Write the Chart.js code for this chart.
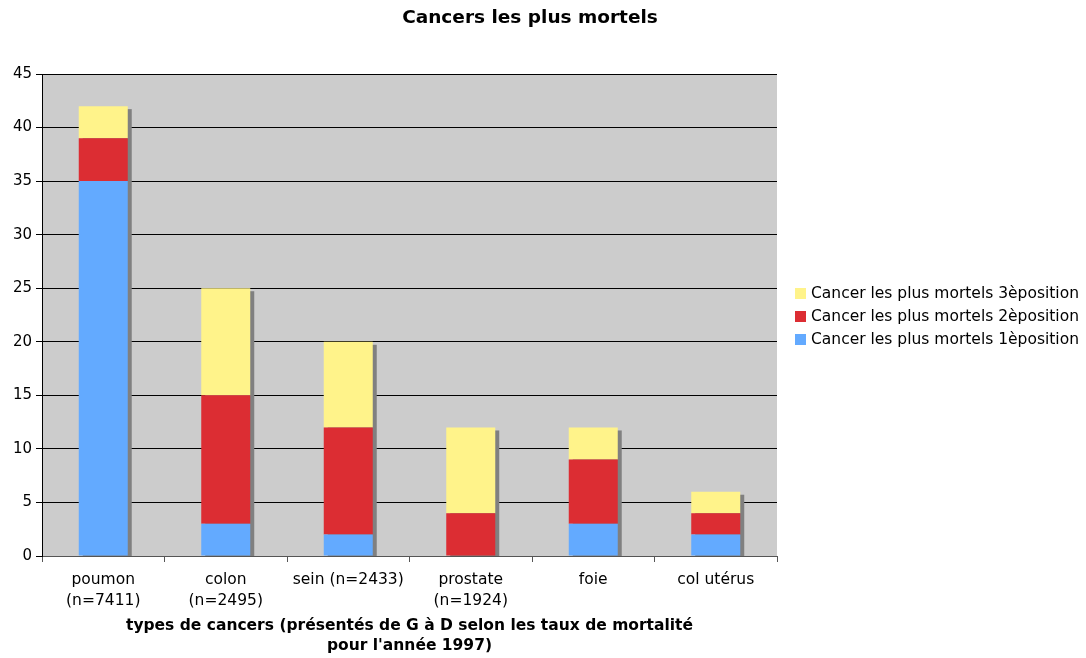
<!DOCTYPE html>
<html>
<head>
<meta charset="utf-8">
<script src="https://cdn.jsdelivr.net/npm/chart.js@4/dist/chart.umd.min.js"></script>
<style>
html,body{margin:0;padding:0;background:#fff;}
#wrap{width:1086px;height:658px;}
</style>
</head>
<body>
<div id="wrap"><canvas id="c" width="1086" height="658"></canvas></div>
<script>
const categories = [["poumon","(n=7411)"],["colon","(n=2495)"],"sein (n=2433)",["prostate","(n=1924)"],"foie","col utérus"];
const seriesNames = ["Cancer les plus mortels 1èposition","Cancer les plus mortels 2èposition","Cancer les plus mortels 3èposition"];
const position1 = [35, 3, 2, 0, 3, 2];
const position2 = [4, 12, 10, 4, 6, 2];
const position3 = [3, 10, 8, 8, 3, 2];
const yTicks = [0,5,10,15,20,25,30,35,40,45];
const chartTitle = "Cancers les plus mortels";
const xTitle = ["types de cancers (présentés de G à D selon les taux de mortalité","pour l'année 1997)"];

const FONT = "'DejaVu Sans', Verdana, sans-serif";

const plotBg = {
  id: 'plotBg',
  beforeDraw(chart) {
    const {ctx, chartArea: a} = chart;
    ctx.save();
    ctx.fillStyle = '#cccccc';
    ctx.fillRect(a.left, a.top, a.right - a.left, a.bottom - a.top);
    ctx.restore();
  }
};

const titlePlugin = {
  id: 'titlePlugin',
  afterDraw(chart) {
    const ctx = chart.ctx;
    ctx.save();
    ctx.fillStyle = '#000';
    ctx.font = "bold 18.5px " + FONT;
    ctx.textAlign = 'center';
    ctx.textBaseline = 'middle';
    ctx.fillText(chartTitle, 530, 18);
    ctx.restore();
  }
};

const sideLegend = {
  id: 'sideLegend',
  afterDraw(chart) {
    const {ctx, chartArea: a} = chart;
    const ds = chart.data.datasets;
    const cy = (a.top + a.bottom) / 2 + 2;
    const rowH = 23;
    const x0 = a.right + 18;
    ctx.save();
    ctx.font = "15.5px " + FONT;
    ctx.textBaseline = 'middle';
    ctx.textAlign = 'left';
    const n = ds.length;
    for (let k = 0; k < n; k++) {
      const d = ds[n - 1 - k];
      const y = cy + (k - (n - 1) / 2) * rowH;
      ctx.fillStyle = d.backgroundColor;
      ctx.fillRect(x0, Math.round(y - 6), 11, 11);
      ctx.fillStyle = '#000';
      ctx.fillText(d.label, x0 + 16, y);
    }
    ctx.restore();
  }
};

const barShadow = {
  id: 'barShadow',
  beforeDatasetsDraw(chart) {
    const {ctx, chartArea: a} = chart;
    const y = chart.scales.y;
    const base = y.getPixelForValue(0);
    const n = chart.data.labels.length;
    ctx.save();
    ctx.beginPath();
    ctx.rect(a.left, a.top, a.right - a.left, a.bottom - a.top);
    ctx.clip();
    ctx.fillStyle = '#808080';
    for (let i = 0; i < n; i++) {
      let top = base, x = null, w = 0;
      chart.data.datasets.forEach((ds, d) => {
        const el = chart.getDatasetMeta(d).data[i];
        if (!el) return;
        x = el.x; w = el.width;
        if (ds.data[i] > 0) top = Math.min(top, el.y);
      });
      if (x === null || top >= base) continue;
      ctx.fillRect(x - w / 2 + 4, top + 3, w, base - top - 3);
    }
    ctx.restore();
  }
};

new Chart(document.getElementById('c'), {
  type: 'bar',
  data: {
    labels: categories,
    datasets: [
      {label: seriesNames[0], data: position1, backgroundColor: '#63aaff'},
      {label: seriesNames[1], data: position2, backgroundColor: '#dc2d33'},
      {label: seriesNames[2], data: position3, backgroundColor: '#fff38a'}
    ]
  },
  options: {
    responsive: false,
    animation: false,
    layout: {padding: {left: 0, right: 309, top: 74, bottom: 0}},
    datasets: {bar: {categoryPercentage: 1.0, barPercentage: 0.4, borderWidth: 0}},
    plugins: {
      title: {display: false},
      legend: {display: false},
      tooltip: {enabled: false}
    },
    scales: {
      x: {
        stacked: true,
        afterFit(scale) { scale.height = 102; },
        grid: {display: true, drawOnChartArea: false, drawTicks: true, tickLength: 6, color: '#555', offset: true},
        border: {display: true, color: '#555'},
        ticks: {color: '#000', font: {family: FONT, size: 15.5, lineHeight: 1.35}, maxRotation: 0, autoSkip: false, padding: 8},
        title: {display: true, text: xTitle, color: '#000', font: {family: FONT, size: 15.5, weight: 'bold', lineHeight: 1.3}, padding: {top: 0, bottom: 2}}
      },
      y: {
        stacked: true, min: 0, max: 45,
        afterFit(scale) { scale.width = 42; },
        afterBuildTicks(scale) { scale.ticks = yTicks.map(v => ({value: v})); },
        grid: {color: '#000', lineWidth: 1, tickLength: 6, drawTicks: true},
        border: {display: true, color: '#000'},
        ticks: {color: '#000', font: {family: FONT, size: 15}, padding: 4}
      }
    }
  },
  plugins: [plotBg, barShadow, titlePlugin, sideLegend]
});
</script>
</body>
</html>
